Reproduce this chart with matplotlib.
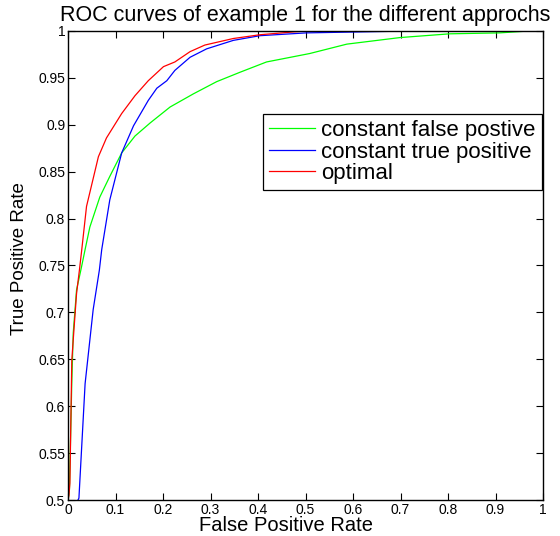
import matplotlib
matplotlib.use("Agg")
import matplotlib.pyplot as plt
import numpy as np

plt.rcParams['font.family'] = ['Liberation Sans', 'DejaVu Sans']

# constant false positive
fpr_cfp = [0.0, 0.003, 0.008, 0.011, 0.018, 0.027, 0.036, 0.046, 0.067, 0.088, 0.113,
           0.141, 0.173, 0.215, 0.264, 0.313, 0.362, 0.418, 0.509, 0.587, 0.699,
           0.804, 0.909, 0.97, 1.0]
tpr_cfp = [0.5, 0.511, 0.625, 0.678, 0.724, 0.745, 0.767, 0.791, 0.823, 0.845, 0.870,
           0.888, 0.902, 0.919, 0.933, 0.946, 0.956, 0.967, 0.976, 0.986, 0.993,
           0.997, 0.998, 1.0, 1.0]

# constant true positive
fpr_ctp = [0.021, 0.023, 0.036, 0.053, 0.066, 0.071, 0.088, 0.113, 0.138, 0.169, 0.187,
           0.208, 0.225, 0.257, 0.292, 0.348, 0.404, 0.502, 0.72]
tpr_ctp = [0.5, 0.502, 0.624, 0.703, 0.745, 0.767, 0.820, 0.870, 0.899, 0.926, 0.939,
           0.947, 0.958, 0.972, 0.981, 0.990, 0.995, 0.998, 1.0]

# optimal
fpr_opt = [0.0, 0.002, 0.004, 0.008, 0.013, 0.018, 0.024, 0.029, 0.039, 0.064, 0.081,
           0.113, 0.141, 0.169, 0.201, 0.225, 0.257, 0.288, 0.348, 0.404, 0.474, 0.5]
tpr_opt = [0.5, 0.505, 0.518, 0.649, 0.685, 0.720, 0.745, 0.767, 0.813, 0.866, 0.886,
           0.912, 0.931, 0.947, 0.962, 0.967, 0.978, 0.985, 0.992, 0.996, 0.999, 1.0]

fig = plt.figure(figsize=(5.6, 5.36), dpi=100)
ax = fig.add_axes([68/560, 36/536, 475/560, 469/536])

ax.plot(fpr_cfp, tpr_cfp, color=(0, 1, 0), lw=0.9, label='constant false postive')
ax.plot(fpr_ctp, tpr_ctp, color=(0, 0, 1), lw=0.9, label='constant true positive')
ax.plot(fpr_opt, tpr_opt, color=(1, 0, 0), lw=0.9, label='optimal')

ax.set_xlim(0, 1)
ax.set_ylim(0.5, 1)
xt = np.arange(0, 1.01, 0.1)
yt = np.arange(0.5, 1.001, 0.05)
ax.set_xticks(xt)
ax.set_xticklabels(['0', '0.1', '0.2', '0.3', '0.4', '0.5', '0.6', '0.7', '0.8', '0.9', '1'])
ax.set_yticks(yt)
ax.set_yticklabels(['0.5', '0.55', '0.6', '0.65', '0.7', '0.75', '0.8', '0.85', '0.9', '0.95', '1'])
ax.tick_params(direction='in', top=True, right=True, length=5, width=0.8,
               labelsize=10, pad=2)
for s in ax.spines.values():
    s.set_linewidth(1.0)

ax.set_title('ROC curves of example 1 for the different approchs', fontsize=15.5, pad=7)
ax.set_xlabel('False Positive Rate', fontsize=14.5)
ax.xaxis.set_label_coords((286 - 68) / 475, -0.034)
ax.set_ylabel('True Positive Rate', fontsize=13.5)
ax.yaxis.set_label_coords(-0.084, (500 - 259) / 469)

leg = ax.legend(loc='upper right', bbox_to_anchor=(0.997, 0.823), fontsize=16,
                fancybox=False, framealpha=1, edgecolor='black', borderaxespad=0,
                handlelength=2.1, labelspacing=0.02, borderpad=0.28, handletextpad=0.25)
leg.get_frame().set_linewidth(0.9)

fig.savefig('out.png', dpi=100)
